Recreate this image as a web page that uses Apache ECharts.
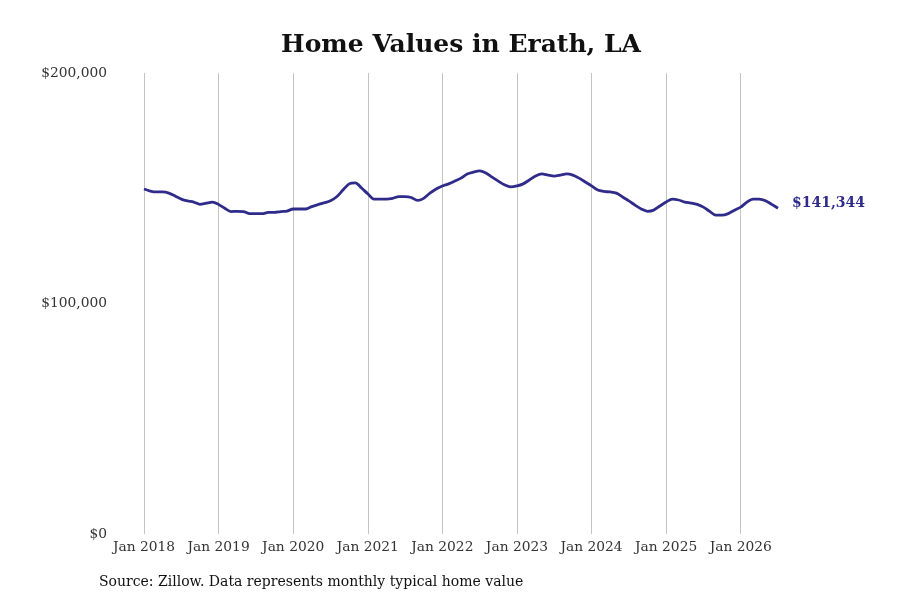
<!DOCTYPE html>
<html>
<head>
<meta charset="utf-8">
<script src="https://cdn.jsdelivr.net/npm/echarts@6/dist/echarts.min.js"></script>
<style>
  html, body { margin: 0; padding: 0; background: #fff; }
  #chart { width: 900px; height: 600px; }
</style>
</head>
<body>
<div id="chart"></div>
<script>
// monthly typical home value, Jan 2018 - Jul 2026 (thousands)
const years = [2018, 2019, 2020, 2021, 2022, 2023, 2024, 2025, 2026]
const monthNames = ['Jan', 'Feb', 'Mar', 'Apr', 'May', 'Jun', 'Jul', 'Aug', 'Sep', 'Oct', 'Nov', 'Dec']
const values = [
  149.7, 148.8, 148.4, 148.4, 147.9, 146.6, 145.3, 144.5, 144.0, 143.0, 143.5, 144.0,
  143.0, 141.3, 139.9, 140.0, 139.9, 139.0, 139.0, 139.0, 139.5, 139.5, 139.9, 140.1,
  141.0, 141.0, 141.0, 142.0, 142.9, 143.7, 144.6, 146.3, 149.2, 151.9, 152.3, 150.1,
  147.6, 145.3, 145.3, 145.3, 145.6, 146.4, 146.4, 146.0, 144.7, 145.6, 147.9, 149.7,
  151.0, 151.9, 153.1, 154.4, 156.2, 157.0, 157.5, 156.6, 154.8, 153.1, 151.5, 150.6,
  151.0, 151.9, 153.6, 155.3, 156.2, 155.7, 155.3, 155.7, 156.2, 155.7, 154.4, 152.7,
  151.0, 149.2, 148.6, 148.4, 147.9, 146.2, 144.5, 142.7, 141.0, 140.0, 140.5, 142.3,
  144.0, 145.3, 144.9, 144.0, 143.6, 143.0, 141.8, 140.0, 138.3, 138.3, 139.0, 140.5,
  141.8, 144.0, 145.3, 145.3, 144.6, 143.0, 141.344
].map(v => Math.round(v * 1000))
const yTicks = [0, 100000, 200000]
const lastLabel = '$141,344'

const months = []
years.forEach(y => monthNames.forEach(m => months.push(m + ' ' + y)))
months.length = values.length

const serif = '"DejaVu Serif", serif'
const lineColor = '#2f2b8a'

let chart = echarts.init(document.getElementById('chart'))
chart.setOption({
  animation: false,
  title: {
    text: 'Home Values in Erath, LA',
    left: 456, top: 28, textAlign: 'center',
    textStyle: { fontFamily: serif, fontWeight: 'bold', fontSize: 25, color: '#111' }
  },
  graphic: [{
    type: 'text', left: 99, top: 575,
    style: { text: 'Source: Zillow. Data represents monthly typical home value', font: '14px ' + serif, fill: '#111' }
  }],
  grid: { left: 144, right: 122, top: 73, bottom: 66 },
  xAxis: {
    type: 'category',
    data: months,
    boundaryGap: false,
    axisLine: { show: false },
    axisTick: { show: false },
    axisLabel: {
      interval: (i) => i % 12 === 0,
      formatter: v => v,
      fontFamily: serif, fontSize: 13.8, color: '#333', margin: 6
    },
    splitLine: { show: true, interval: (i) => i % 12 === 0, lineStyle: { color: '#c4c4c4', width: 1 } }
  },
  yAxis: {
    type: 'value',
    min: 0, max: 200000, interval: 100000,
    axisLine: { show: false },
    axisTick: { show: false },
    splitLine: { show: false },
    axisLabel: {
      margin: 37,
      fontFamily: serif, fontSize: 13.8, color: '#333',
      formatter: v => yTicks.includes(v) ? '$' + v.toLocaleString('en-US') : ''
    }
  },
  series: [{
    type: 'line',
    data: values,
    showSymbol: false,
    smooth: 0.3,
    lineStyle: { color: lineColor, width: 2.8 },
    endLabel: {
      show: true,
      formatter: () => lastLabel,
      distance: 14,
      offset: [0, -5],
      fontFamily: serif, fontWeight: 'bold', fontSize: 14, color: lineColor
    }
  }]
})
</script>
</body>
</html>
